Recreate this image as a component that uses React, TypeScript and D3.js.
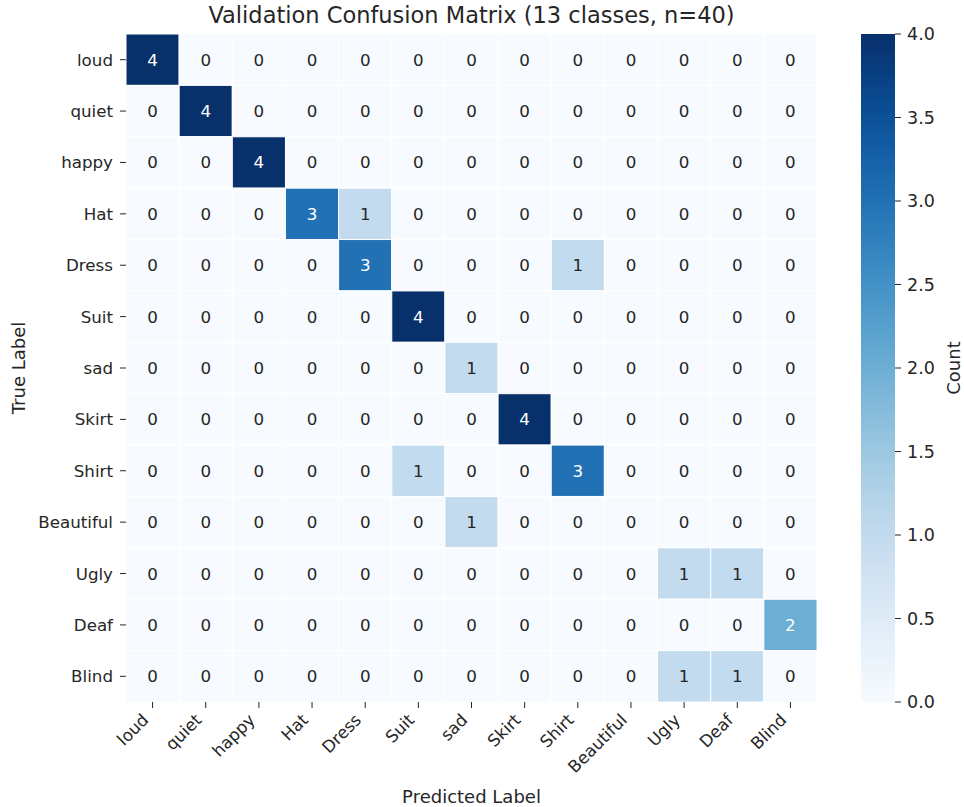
import React from "react";
import * as d3 from "d3";

const classes = ["loud", "quiet", "happy", "Hat", "Dress", "Suit", "sad", "Skirt", "Shirt", "Beautiful", "Ugly", "Deaf", "Blind"];

// rows = true label, cols = predicted label
const counts = [
  [4, 0, 0, 0, 0, 0, 0, 0, 0, 0, 0, 0, 0],
  [0, 4, 0, 0, 0, 0, 0, 0, 0, 0, 0, 0, 0],
  [0, 0, 4, 0, 0, 0, 0, 0, 0, 0, 0, 0, 0],
  [0, 0, 0, 3, 1, 0, 0, 0, 0, 0, 0, 0, 0],
  [0, 0, 0, 0, 3, 0, 0, 0, 1, 0, 0, 0, 0],
  [0, 0, 0, 0, 0, 4, 0, 0, 0, 0, 0, 0, 0],
  [0, 0, 0, 0, 0, 0, 1, 0, 0, 0, 0, 0, 0],
  [0, 0, 0, 0, 0, 0, 0, 4, 0, 0, 0, 0, 0],
  [0, 0, 0, 0, 0, 1, 0, 0, 3, 0, 0, 0, 0],
  [0, 0, 0, 0, 0, 0, 1, 0, 0, 0, 0, 0, 0],
  [0, 0, 0, 0, 0, 0, 0, 0, 0, 0, 1, 1, 0],
  [0, 0, 0, 0, 0, 0, 0, 0, 0, 0, 0, 0, 2],
  [0, 0, 0, 0, 0, 0, 0, 0, 0, 0, 1, 1, 0],
];

const colorTicks = [0, 0.5, 1, 1.5, 2, 2.5, 3, 3.5, 4];

const W = 964;
const H = 807;
const left = 126;
const right = 817;
const top = 34;
const bottom = 702;
const cbX = 861;
const cbW = 34;
const FONT = "DejaVu Sans, sans-serif";
const INK = "#262626";

const App = () => {
  const x = d3.scaleBand().domain(classes).range([left, right]);
  const y = d3.scaleBand().domain(classes).range([top, bottom]);
  const color = d3.scaleSequential(d3.interpolateBlues).domain([0, 4]);
  const cy = d3.scaleLinear().domain([0, 4]).range([bottom, top]);

  // same rule seaborn uses to pick annotation colour
  const textColor = (v: number) => {
    const c = d3.rgb(color(v));
    const lum = 0.2126 * Math.pow(c.r / 255, 2.2) + 0.7152 * Math.pow(c.g / 255, 2.2) + 0.0722 * Math.pow(c.b / 255, 2.2);
    return lum > 0.408 ? INK : "#ffffff";
  };

  const stops = d3.range(0, 1.0001, 0.05);

  return (
    <svg width={W} height={H} style={{ position: "absolute", left: 0, top: 0 }} fontFamily={FONT}>
      <defs>
        <linearGradient id="cb" x1="0" y1="1" x2="0" y2="0">
          {stops.map((s) => (
            <stop key={s} offset={s} stopColor={color(s * 4)} />
          ))}
        </linearGradient>
      </defs>
      <rect width={W} height={H} fill="white" />
      <text x={(left + right) / 2} y={23} textAnchor="middle" fontSize={22.5} fill={INK}>
        Validation Confusion Matrix (13 classes, n=40)
      </text>

      {counts.map((row, i) =>
        row.map((v, j) => (
          <g key={`${i}-${j}`}>
            <rect
              x={x(classes[j])!}
              y={y(classes[i])!}
              width={x.bandwidth()}
              height={y.bandwidth()}
              fill={color(v)}
              stroke="white"
              strokeWidth={1}
            />
            <text
              x={x(classes[j])! + x.bandwidth() / 2}
              y={y(classes[i])! + y.bandwidth() / 2}
              dy="0.36em"
              textAnchor="middle"
              fontSize={16.7}
              fill={textColor(v)}
            >
              {v}
            </text>
          </g>
        ))
      )}

      {classes.map((c) => {
        const cx = x(c)! + x.bandwidth() / 2;
        return (
          <g key={"x" + c}>
            <line x1={cx} x2={cx} y1={bottom} y2={bottom + 6} stroke={INK} strokeWidth={1} />
            <text
              transform={`translate(${cx - 3},${bottom + 19}) rotate(-45)`}
              textAnchor="end"
              fontSize={16.7}
              fill={INK}
            >
              {c}
            </text>
          </g>
        );
      })}

      {classes.map((c) => {
        const yy = y(c)! + y.bandwidth() / 2;
        return (
          <g key={"y" + c}>
            <line x1={left - 6} x2={left} y1={yy} y2={yy} stroke={INK} strokeWidth={1} />
            <text x={left - 13} y={yy} dy="0.36em" textAnchor="end" fontSize={16.7} fill={INK}>
              {c}
            </text>
          </g>
        );
      })}

      <text x={(left + right) / 2} y={803} textAnchor="middle" fontSize={18} fill={INK}>
        Predicted Label
      </text>
      <text
        transform={`translate(25,${(top + bottom) / 2}) rotate(-90)`}
        textAnchor="middle"
        fontSize={18}
        fill={INK}
      >
        True Label
      </text>

      <rect x={cbX} y={top} width={cbW} height={bottom - top} fill="url(#cb)" />
      {colorTicks.map((t) => (
        <g key={"c" + t}>
          <line x1={cbX + cbW} x2={cbX + cbW + 6} y1={cy(t)} y2={cy(t)} stroke={INK} strokeWidth={1} />
          <text x={cbX + cbW + 12} y={cy(t)} dy="0.36em" fontSize={17.5} fill={INK}>
            {t.toFixed(1)}
          </text>
        </g>
      ))}
      <text
        transform={`translate(960,${(top + bottom) / 2}) rotate(-90)`}
        textAnchor="middle"
        fontSize={18}
        fill={INK}
      >
        Count
      </text>
    </svg>
  );
};

export default App;
